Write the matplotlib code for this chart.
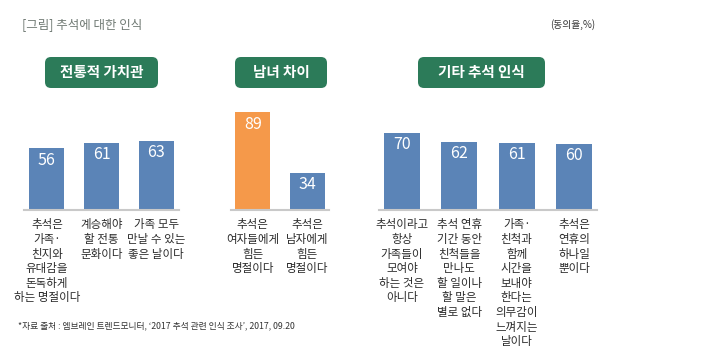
import matplotlib
matplotlib.use("Agg")
import matplotlib.pyplot as plt
from matplotlib.patches import FancyBboxPatch

plt.rcParams['font.family'] = ['Noto Sans CJK KR', 'DejaVu Sans']

# ---- data ----
title = "[그림] 추석에 대한 인식"
unit_note = "(동의율,%)"
source = "*자료 출처 : 엠브레인 트렌드모니터, ‘2017 추석 관련 인식 조사’, 2017, 09.20"

group_titles = ["전통적 가치관", "남녀 차이", "기타 추석 인식"]

g1_labels = ["추석은\n가족·\n친지와\n유대감을\n돈독하게\n하는 명절이다",
             "계승해야\n할 전통\n문화이다",
             "가족 모두\n만날 수 있는\n좋은 날이다"]
g1_values = [56, 61, 63]

g2_labels = ["추석은\n여자들에게\n힘든\n명절이다",
             "추석은\n남자에게\n힘든\n명절이다"]
g2_values = [89, 34]

g3_labels = ["추석이라고\n항상\n가족들이\n모여야\n하는 것은\n아니다",
             "추석 연휴\n기간 동안\n친척들을\n만나도\n할 일이나\n할 말은\n별로 없다",
             "가족·\n친척과\n함께\n시간을\n보내야\n한다는\n의무감이\n느껴지는\n날이다",
             "추석은\n연휴의\n하나일\n뿐이다"]
g3_values = [70, 62, 61, 60]

# ---- style ----
W, H = 701, 351
BLUE = "#5b84b7"
ORANGE = "#f5994a"
GREEN = "#2c7b59"
AXIS = "#c9c9c9"
TEXT = "#333333"

fig = plt.figure(figsize=(W / 100, H / 100), dpi=100)

def px_axes(left, top, width, height):
    return fig.add_axes([left / W, 1 - (top + height) / H, width / W, height / H])

base_y = 210          # pixel row of axis line
ax_h = 110            # pixel height corresponding to 0..100

groups = [
    dict(labels=g1_labels, values=g1_values, colors=[BLUE] * 3,
         left=24, width=155, xlim=(-0.42, 2.42), bw=0.64),
    dict(labels=g2_labels, values=g2_values, colors=[ORANGE, BLUE],
         left=231, width=98, xlim=(-0.4, 1.4), bw=0.64),
    dict(labels=g3_labels, values=g3_values, colors=[BLUE] * 4,
         left=379, width=218, xlim=(-0.4, 3.4), bw=0.63),
]

for g in groups:
    ax = px_axes(g["left"], base_y - ax_h, g["width"], ax_h)
    x = list(range(len(g["values"])))
    bars = ax.bar(x, g["values"], width=g["bw"], color=g["colors"], zorder=2)
    ax.set_xlim(*g["xlim"])
    ax.set_ylim(0, 100)
    for s in ["top", "right", "left"]:
        ax.spines[s].set_visible(False)
    ax.spines["bottom"].set_color(AXIS)
    ax.spines["bottom"].set_linewidth(1.5)
    ax.set_yticks([])
    ax.set_xticks(x)
    ax.set_xticklabels(g["labels"], fontsize=8.3, color="#2b2b2b", linespacing=1.16,
                       va="top")
    ax.tick_params(axis="x", length=0, pad=6)
    ax.patch.set_alpha(0)
    for xi, v in zip(x, g["values"]):
        ax.annotate(str(v), (xi, v), xytext=(0, -2.5), textcoords="offset points",
                    ha="center", va="top", color="white", fontsize=11.5)

# title texts
fig.text(22 / W, 1 - 25 / H, title, fontsize=9.0, color="#707a74",
         ha="left", va="center")
fig.text(550 / W, 1 - 25 / H, unit_note, fontsize=7, color=TEXT,
         ha="left", va="center")
fig.text(18 / W, 1 - 326 / H, source, fontsize=6.3, color=TEXT,
         ha="left", va="center")

# green header buttons
btns = [(45, 158), (235, 327), (418, 545)]
for (x0, x1), t in zip(btns, group_titles):
    y0, y1 = 57, 88
    r = 6
    patch = FancyBboxPatch((x0 / W, 1 - y1 / H), (x1 - x0) / W, (y1 - y0) / H,
                           boxstyle=f"round,pad=0,rounding_size={r / W}",
                           transform=fig.transFigure, facecolor=GREEN,
                           edgecolor="none", mutation_aspect=W / H)
    fig.patches.append(patch)
    fig.text((x0 + x1) / 2 / W, 1 - (y0 + y1) / 2 / H, t, fontsize=10.5,
             fontweight="bold", color="white", ha="center", va="center")

fig.savefig("out.png", dpi=100)
